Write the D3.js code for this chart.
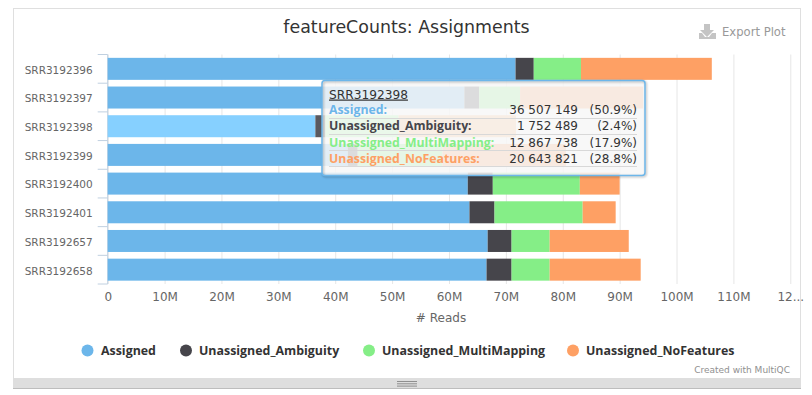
<!DOCTYPE html>
<html>
<head>
<meta charset="utf-8">
<script src="https://cdn.jsdelivr.net/npm/d3@7"></script>
<style>
  html, body { margin: 0; padding: 0; background: #fff; }
  svg { display: block; }
  text { font-family: 'DejaVu Sans', sans-serif; }
</style>
</head>
<body>
<div id="chart"></div>
<script>
// GLOBAL
var width = 812
var height = 395
var margin = {top:54.5, left:107.7, bottom:111, right:21.7}

var samples = ['SRR3192396', 'SRR3192397', 'SRR3192398', 'SRR3192399', 'SRR3192400', 'SRR3192401', 'SRR3192657', 'SRR3192658']
var seriesNames = ['Assigned', 'Unassigned_Ambiguity', 'Unassigned_MultiMapping', 'Unassigned_NoFeatures']
var seriesColours = ['#6cb6ea', '#46454b', '#85ee87', '#fea064']
var seriesHover = ['#86d0ff', '#5a595f', '#9fffa1', '#ffba7e']

// millions of reads, one value per sample
var assigned = [71.7, 62.7, 36.507149, 42.2, 63.3, 63.6, 66.8, 66.6]
var ambiguity = [3.2, 2.6, 1.752489, 1.75, 4.4, 4.4, 4.2, 4.4]
var multiMapping = [8.3, 7.2, 12.867738, 14.9, 15.3, 15.5, 6.7, 6.7]
var noFeatures = [23.0, 21.6, 20.643821, 21.7, 7.0, 5.8, 13.9, 16.0]

var xTicks = [0, 10, 20, 30, 40, 50, 60, 70, 80, 90, 100, 110, 120]
var xTickLabels = ['0', '10M', '20M', '30M', '40M', '50M', '60M', '70M', '80M', '90M', '100M', '110M', '12...']

var hoverSample = 'SRR3192398'
var tipValues = ['36 507 149', '1 752 489', '12 867 738', '20 643 821']
var tipPercents = ['(50.9%)', '(2.4%)', '(17.9%)', '(28.8%)']

var boldFont = "'Open Sans', sans-serif"

var svg = d3.select('#chart').append('svg')
  .attr('width', width)
  .attr('height', height)

// HELPERS

var xMap = d3.scaleLinear()
  .domain([0, 120])
  .range([margin.left, width - margin.right])

var yMap = d3.scaleBand()
  .domain(samples)
  .range([margin.top, height - margin.bottom])
  .paddingInner(0.233)
  .paddingOuter(0.1165)

var stackData = samples.map((s, i) => ({
  sample: s,
  Assigned: assigned[i],
  Unassigned_Ambiguity: ambiguity[i],
  Unassigned_MultiMapping: multiMapping[i],
  Unassigned_NoFeatures: noFeatures[i]
}))

function label(x, y, str, size, fill, anchor, weight) {
  return svg.append('text')
    .attr('x', x)
    .attr('y', y)
    .text(str)
    .style('font-size', size + 'px')
    .style('fill', fill)
    .style('text-anchor', anchor || 'start')
    .style('font-weight', weight || 'normal')
}

// FUNCTION

function drawPanel() {
  svg.append('rect')
    .attr('x', 13.5).attr('y', 8.5)
    .attr('width', 787).attr('height', 372)
    .style('fill', 'white')
    .style('stroke', '#dfdfdf')

  svg.append('rect')
    .attr('x', 13).attr('y', 378)
    .attr('width', 788).attr('height', 10)
    .style('fill', '#dedede')
  svg.append('rect')
    .attr('x', 13).attr('y', 388)
    .attr('width', 788).attr('height', 1)
    .style('fill', '#bdbdbd')

  for (var i = 0; i < 3; i++) {
    svg.append('rect')
      .attr('x', 397).attr('y', 381 + i * 2.3)
      .attr('width', 20).attr('height', 1)
      .style('fill', '#8f8f8f')
  }
}

function drawAxes() {
  var xAxis = d3.axisBottom(xMap)
    .tickValues(xTicks)
    .tickFormat((d, i) => xTickLabels[i])
    .tickSize(height - margin.bottom - margin.top)
    .tickPadding(8.5)

  var gX = svg.append('g')
    .attr('transform', 'translate(' + [0, margin.top] + ')')
    .call(xAxis)
  gX.select('.domain').remove()
  gX.selectAll('line').style('stroke', '#e6e6e6')
  gX.selectAll('text')
    .style('font-size', '12px')
    .style('font-family', "'DejaVu Sans', sans-serif")
    .style('fill', '#666')

  var yAxis = d3.axisLeft(yMap)
    .tickSize(0)
    .tickPadding(15)

  var gY = svg.append('g')
    .attr('transform', 'translate(' + [margin.left, 1.5] + ')')
    .call(yAxis)
  gY.select('.domain').remove()
  gY.selectAll('text')
    .style('font-size', '10.5px')
    .style('font-family', "'DejaVu Sans', sans-serif")
    .style('fill', '#666')

  // category ticks sit on the band edges
  var step = yMap.step()
  var edges = d3.range(samples.length + 1).map(i => margin.top + i * step)
  svg.append('g').selectAll('line')
    .data(edges)
    .enter().append('line')
    .attr('x1', margin.left - 10)
    .attr('x2', margin.left)
    .attr('y1', d => d)
    .attr('y2', d => d)
    .style('stroke', '#c0d0e0')

  svg.append('line')
    .attr('x1', margin.left)
    .attr('x2', margin.left)
    .attr('y1', margin.top)
    .attr('y2', height - margin.bottom)
    .style('stroke', '#c0d0e0')
}

function drawBars() {
  var stacked = d3.stack().keys(seriesNames)(stackData)

  var gSeries = svg.append('g').selectAll('g')
    .data(stacked)
    .enter().append('g')

  gSeries.selectAll('rect')
    .data((d, i) => d.map(v => ({v: v, i: i})))
    .enter().append('rect')
    .attr('x', d => xMap(d.v[0]))
    .attr('y', d => yMap(d.v.data.sample))
    .attr('width', d => xMap(d.v[1]) - xMap(d.v[0]))
    .attr('height', yMap.bandwidth())
    .style('fill', d => d.v.data.sample == hoverSample ? seriesHover[d.i] : seriesColours[d.i])
}

function drawLegend() {
  var legendCircle = [87.5, 186, 369, 573]
  var legendText = [101, 199, 382, 586]
  seriesNames.forEach((name, i) => {
    svg.append('circle')
      .attr('cx', legendCircle[i])
      .attr('cy', 350.5)
      .attr('r', 6)
      .style('fill', seriesColours[i])
    label(legendText[i], 355, name, 12.4, '#333', 'start', 'bold').style('font-family', boldFont)
  })
}

function drawTooltip() {
  var gTip = svg.append('g')
  gTip.append('rect')
    .attr('x', 322).attr('y', 80.5)
    .attr('width', 323).attr('height', 95)
    .attr('rx', 3)
    .style('fill', 'rgb(247,247,247)')
    .style('fill-opacity', 0.85)
  // shadow goes on the outline only, or it shows through the see-through fill
  gTip.append('rect')
    .attr('x', 322).attr('y', 80.5)
    .attr('width', 323).attr('height', 95)
    .attr('rx', 3)
    .style('fill', 'none')
    .style('stroke', '#6cb6ea')
    .style('stroke-width', 1.5)
    .style('filter', 'drop-shadow(1px 1px 1px rgba(0,0,0,0.3))')

  label(329, 98.5, hoverSample, 12.2, '#333').style('text-decoration', 'underline')

  var rowY = [114, 130, 147, 163]
  var lineY = [118, 134, 150, 166]
  seriesNames.forEach((name, i) => {
    svg.append('line')
      .attr('x1', 329).attr('x2', 637)
      .attr('y1', lineY[i] + 0.5).attr('y2', lineY[i] + 0.5)
      .style('stroke', '#d8d8d8')
    label(329, rowY[i], name + ':', 12.3, seriesColours[i], 'start', 'bold').style('font-family', boldFont)
    label(578, rowY[i], tipValues[i], 12, '#333', 'end')
    label(637, rowY[i], tipPercents[i], 12, '#333', 'end')
  })
}

function drawText() {
  label(406.5, 33, 'featureCounts: Assignments', 17.4, '#333', 'middle')
  label(441, 322, '# Reads', 12, '#666', 'middle')
  label(790, 373, 'Created with MultiQC', 9, '#909090', 'end')
  label(722, 36, 'Export Plot', 11.6, '#999')

  // download icon
  svg.append('path')
    .attr('d', 'M704 24h6v6h4l-7 7-7-7h4z')
    .style('fill', '#c4c4c4')
  svg.append('path')
    .attr('d', 'M699 33h3l3 4h4l3-4h4v6h-17z')
    .style('fill', '#c4c4c4')
}

// MAIN
drawPanel()
drawAxes()
drawBars()
drawLegend()
drawText()
drawTooltip()
</script>
</body>
</html>
